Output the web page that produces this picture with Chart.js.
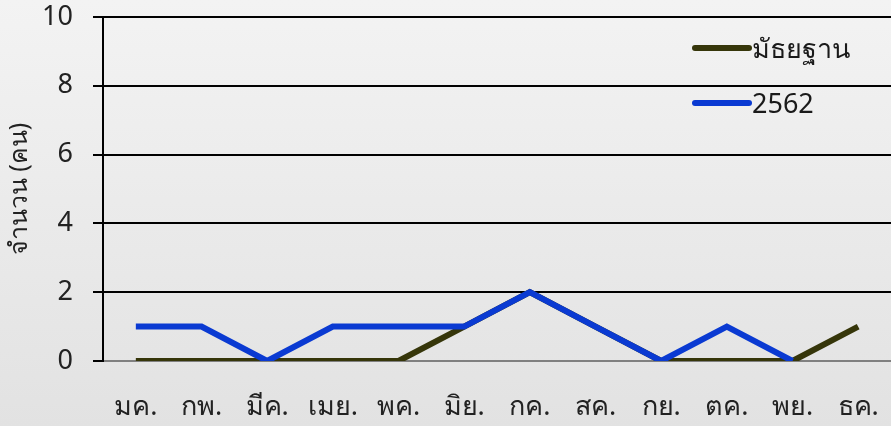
<!DOCTYPE html>
<html>
<head>
<meta charset="utf-8">
<script src="https://cdn.jsdelivr.net/npm/chart.js@4"></script>
<style>
    html, body { margin: 0; padding: 0; background: #eeeeee; }
    #wrap { width: 891px; height: 426px; }
</style>
</head>
<body>
<div id="wrap"><canvas id="chart" width="891" height="426"></canvas></div>
<script>
// month labels and series values
const months = ['มค.', 'กพ.', 'มีค.', 'เมย.', 'พค.', 'มิย.', 'กค.', 'สค.', 'กย.', 'ตค.', 'พย.', 'ธค.'];
const medianValues = [0, 0, 0, 0, 0, 1, 2, 1, 0, 0, 0, 1];
const year2562Values = [1, 1, 0, 1, 1, 1, 2, 1, 0, 1, 0, null];
const seriesNames = ['มัธยฐาน', '2562'];
const yTicks = [0, 2, 4, 6, 8, 10];

const FONT = "'Noto Sans', 'DejaVu Sans', sans-serif";

// grey gradient behind everything
const backgroundPlugin = {
    id: 'bg',
    beforeDraw(chart) {
        const ctx = chart.ctx;
        const g = ctx.createLinearGradient(0, 0, 0, chart.height);
        g.addColorStop(0, '#f3f3f3');
        g.addColorStop(1, '#e2e2e2');
        ctx.save();
        ctx.fillStyle = g;
        ctx.fillRect(0, 0, chart.width, chart.height);
        ctx.restore();
    }
};

// legend drawn inside the plot, top right
const legendPlugin = {
    id: 'innerLegend',
    afterDraw(chart) {
        const ctx = chart.ctx;
        ctx.save();
        ctx.font = '27px ' + FONT;
        ctx.textBaseline = 'middle';
        chart.data.datasets.forEach(function(ds, i) {
            const y = 48 + i * 55;
            ctx.strokeStyle = ds.borderColor;
            ctx.lineWidth = 6;
            ctx.lineCap = 'round';
            ctx.beginPath();
            ctx.moveTo(695, y);
            ctx.lineTo(749, y);
            ctx.stroke();
            ctx.fillStyle = '#1a1a1a';
            ctx.fillText(ds.label, 752, y + 2);
        });
        ctx.restore();
    }
};

const chart = new Chart(document.getElementById('chart'), {
    type: 'line',
    data: {
        labels: months,
        datasets: [
            {
                label: seriesNames[0],
                data: medianValues,
                borderColor: '#36360a',
                borderWidth: 6,
                pointRadius: 0,
                tension: 0,
                order: 2
            },
            {
                label: seriesNames[1],
                data: year2562Values,
                borderColor: '#0a3ad2',
                borderWidth: 6,
                pointRadius: 0,
                tension: 0,
                order: 1
            }
        ]
    },
    options: {
        responsive: false,
        animation: false,
        layout: { padding: { top: 17, right: 0, left: 0, bottom: 0 } },
        plugins: {
            legend: { display: false },
            tooltip: { enabled: false }
        },
        scales: {
            x: {
                offset: true,
                grid: { display: false, drawTicks: true, tickLength: 30, tickColor: 'rgba(0,0,0,0)' },
                border: { display: false },
                ticks: {
                    color: '#222',
                    font: { family: FONT, size: 27 },
                    padding: 0,
                    maxRotation: 0,
                    autoSkip: false
                },
                afterFit(scale) { scale.height = 65; }
            },
            y: {
                min: 0,
                max: 10,
                afterBuildTicks(scale) {
                    scale.ticks = yTicks.map(v => ({ value: v }));
                },
                grid: {
                    color: ctx => ctx.tick && ctx.tick.value === 0 ? '#808080' : '#000000',
                    lineWidth: 2,
                    tickLength: 10,
                    tickColor: '#000000'
                },
                border: { display: true, color: '#000000', width: 2 },
                ticks: {
                    color: '#222',
                    font: { family: FONT, size: 27 },
                    padding: 20
                },
                title: {
                    display: true,
                    text: 'จำนวน (คน)',
                    color: '#222',
                    font: { family: FONT, size: 25 },
                    padding: { top: 5, bottom: 0 }
                },
                afterFit(scale) {
                    scale.width = 103;
                    // keep the tick padding from pushing the plot down
                    scale.paddingTop = 0;
                    scale.paddingBottom = 0;
                }
            }
        }
    },
    plugins: [backgroundPlugin, legendPlugin]
});
</script>
</body>
</html>
